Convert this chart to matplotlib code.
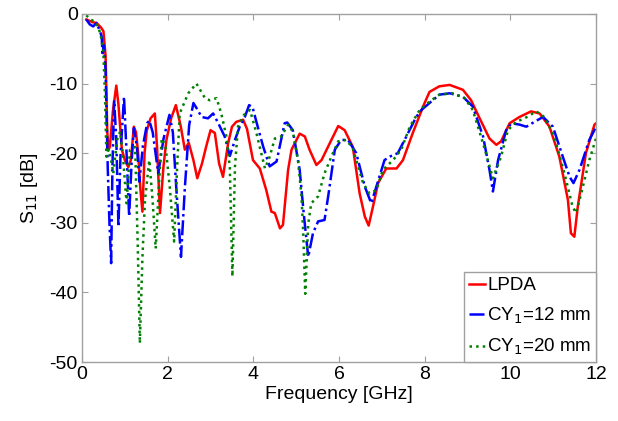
import matplotlib.pyplot as plt
import numpy as np

plt.rcParams['font.family'] = ['Liberation Sans', 'DejaVu Sans']
plt.rcParams['axes.unicode_minus'] = False

# LPDA reference antenna
f_lpda = [0.10, 0.25, 0.34, 0.45, 0.50, 0.55, 0.59, 0.62, 0.65, 0.72, 0.80, 0.85, 0.89, 0.93,
          1.00, 1.08, 1.14, 1.21, 1.26, 1.31, 1.36, 1.41, 1.46, 1.51, 1.60, 1.70, 1.75, 1.82,
          1.90, 1.97, 2.08, 2.19, 2.30, 2.40, 2.49, 2.60, 2.69, 2.80, 2.90, 3.00, 3.10, 3.20,
          3.29, 3.41, 3.50, 3.60, 3.76, 3.85, 3.99, 4.15, 4.30, 4.42, 4.50, 4.62, 4.69, 4.81,
          4.89, 5.08, 5.20, 5.31, 5.47, 5.59, 5.78, 5.98, 6.13, 6.32, 6.48, 6.60, 6.69, 6.79,
          6.91, 7.10, 7.34, 7.49, 7.72, 7.96, 8.11, 8.34, 8.58, 8.89, 9.08, 9.28, 9.51, 9.67,
          9.78, 9.98, 10.21, 10.48, 10.68, 10.91, 11.14, 11.34, 11.41, 11.49, 11.57, 11.76,
          11.96, 12.00]
s_lpda = [-0.8, -1.2, -1.3, -2.0, -2.5, -6.0, -17.0, -19.5, -19.1, -14.0, -10.3, -13.0, -16.2, -19.5,
          -21.0, -22.0, -21.0, -16.2, -17.0, -20.0, -25.0, -28.4, -20.0, -16.8, -15.0, -14.3, -19.0, -28.6,
          -22.0, -18.1, -15.0, -13.1, -16.0, -19.5, -18.5, -21.0, -23.6, -21.5, -19.0, -16.7, -17.1, -21.5,
          -23.4, -18.6, -16.2, -15.5, -15.2, -16.5, -21.0, -22.2, -25.3, -28.4, -28.6, -30.8, -30.3, -22.4,
          -19.5, -17.2, -17.6, -19.5, -21.7, -21.0, -18.6, -16.1, -16.7, -19.1, -25.8, -29.1, -30.4, -27.7,
          -24.3, -22.2, -22.2, -21.0, -17.1, -13.3, -11.2, -10.4, -10.2, -10.9, -12.4, -15.0, -17.9, -18.8,
          -18.3, -15.7, -14.8, -14.0, -14.3, -16.2, -20.5, -26.7, -31.5, -32.0, -27.7, -20.0,
          -15.9, -15.7]

# CY1 = 12 mm
f_cy12 = [0.10, 0.18, 0.26, 0.34, 0.42, 0.46, 0.48, 0.51, 0.55, 0.60, 0.64, 0.68, 0.71, 0.75,
          0.80, 0.85, 0.90, 0.98, 1.04, 1.10, 1.16, 1.21, 1.28, 1.34, 1.42, 1.52, 1.57, 1.65,
          1.78, 1.90, 2.04, 2.12, 2.20, 2.31, 2.40, 2.50, 2.60, 2.70, 2.79, 2.94, 3.06, 3.18,
          3.33, 3.45, 3.57, 3.68, 3.80, 3.90, 3.98, 4.07, 4.23, 4.38, 4.54, 4.65, 4.73, 4.79,
          4.92, 5.08, 5.18, 5.28, 5.39, 5.51, 5.66, 5.75, 5.90, 6.05, 6.21, 6.40, 6.60, 6.75,
          6.87, 7.06, 7.18, 7.37, 7.57, 7.80, 7.92, 8.11, 8.34, 8.58, 8.89, 9.12, 9.36, 9.51,
          9.59, 9.71, 9.90, 10.02, 10.21, 10.37, 10.56, 10.76, 10.99, 11.22, 11.38, 11.47,
          11.61, 11.84, 12.00]
s_cy12 = [-0.8, -1.5, -1.8, -1.3, -2.5, -3.3, -6.0, -4.5, -8.0, -22.0, -30.0, -35.8, -22.0, -12.4,
          -18.0, -30.6, -20.0, -11.9, -20.0, -29.1, -21.0, -16.4, -19.0, -24.1, -19.0, -15.7, -15.3, -17.0,
          -22.9, -18.0, -14.5, -17.0, -25.0, -34.9, -25.0, -16.0, -12.8, -13.8, -14.8, -15.0, -14.3, -15.7,
          -17.6, -20.4, -18.1, -16.2, -14.8, -13.1, -13.4, -15.5, -19.1, -21.9, -21.2, -18.0, -15.7, -15.6,
          -16.7, -22.4, -29.0, -34.9, -31.5, -29.8, -29.6, -26.0, -19.5, -18.1, -18.1, -20.0, -24.8, -27.2,
          -24.8, -21.0, -20.5, -20.0, -17.6, -14.8, -13.8, -12.8, -11.6, -11.4, -11.9, -13.3, -17.6, -22.4,
          -25.5, -21.0, -16.7, -15.7, -15.9, -16.2, -15.5, -14.8, -16.2, -20.5, -23.4, -24.3,
          -22.4, -18.1, -16.2]

# CY1 = 20 mm
f_cy20 = [0.10, 0.20, 0.26, 0.38, 0.45, 0.50, 0.54, 0.57, 0.62, 0.68, 0.73, 0.82, 0.89, 0.95,
          1.04, 1.12, 1.24, 1.30, 1.35, 1.41, 1.47, 1.57, 1.65, 1.72, 1.80, 1.86, 1.95, 2.05,
          2.15, 2.22, 2.28, 2.48, 2.67, 2.87, 2.98, 3.14, 3.25, 3.37, 3.45, 3.51, 3.57, 3.64,
          3.78, 3.92, 4.07, 4.27, 4.38, 4.50, 4.65, 4.81, 4.92, 5.04, 5.12, 5.16, 5.21, 5.28,
          5.35, 5.51, 5.66, 5.82, 5.98, 6.17, 6.32, 6.56, 6.71, 6.87, 7.02, 7.26, 7.45, 7.65,
          7.88, 8.11, 8.34, 8.65, 8.93, 9.12, 9.36, 9.59, 9.78, 9.94, 10.13, 10.33, 10.60,
          10.79, 11.02, 11.26, 11.45, 11.53, 11.65, 11.84, 12.00]
s_cy20 = [-0.2, -0.8, -1.0, -1.8, -3.5, -5.6, -12.4, -20.5, -19.5, -21.0, -22.9, -18.1, -16.9, -20.0,
          -27.2, -19.5, -19.1, -33.0, -47.3, -35.0, -26.7, -21.0, -27.0, -33.7, -24.0, -17.9, -19.0, -25.0,
          -32.7, -22.0, -14.3, -11.4, -10.0, -12.1, -12.4, -12.1, -14.3, -17.6, -22.0, -37.7, -21.9, -16.2,
          -14.5, -13.8, -17.1, -22.2, -20.5, -17.9, -17.6, -15.9, -16.9, -21.0, -26.0, -31.0, -40.2, -30.1,
          -27.2, -26.2, -22.9, -20.5, -18.3, -18.1, -19.3, -24.3, -25.8, -25.3, -22.4, -21.0, -19.5, -16.2,
          -13.8, -12.6, -11.6, -11.4, -12.1, -13.8, -18.6, -23.6, -20.5, -16.7, -15.5, -15.0, -14.0,
          -14.8, -17.6, -22.9, -27.7, -28.6, -25.8, -21.0, -17.8]

xticks = [0, 2, 4, 6, 8, 10, 12]
yticks = [0, -10, -20, -30, -40, -50]

fig = plt.figure(figsize=(6.18, 4.21), dpi=100)
ax = fig.add_axes([0.1327, 0.140, 0.832, 0.827])

ax.plot(f_lpda, s_lpda, color='#ff0000', lw=1.8, label='LPDA')
ax.plot(f_cy12, s_cy12, color='#0000ff', lw=1.8, dashes=(6, 1.5, 1, 1.5), label='CY$_1$=12 mm')
ax.plot(f_cy20, s_cy20, color='#008000', lw=1.8, linestyle=':', label='CY$_1$=20 mm')

ax.set_xlim(0, 12)
ax.set_ylim(-50, 0)
ax.set_xticks(xticks)
ax.set_yticks(yticks)
ax.tick_params(direction='in', length=4, top=True, right=True, labelsize=14,
               color='#a0a0a0', pad=3)
for sp in ax.spines.values():
    sp.set_color('#a0a0a0')
    sp.set_linewidth(1.0)

ax.set_xlabel('Frequency [GHz]', fontsize=14, labelpad=2)
ax.set_ylabel('S$_{11}$ [dB]', fontsize=14, labelpad=7)

leg = ax.legend(loc='lower right', fontsize=13.5, handlelength=0.9, handletextpad=0.1,
                borderaxespad=0, borderpad=0.25, labelspacing=0.6, fancybox=False,
                framealpha=1)
leg.get_frame().set_edgecolor('#a0a0a0')
leg.get_frame().set_linewidth(1.0)

plt.savefig('out.png', dpi=100)
